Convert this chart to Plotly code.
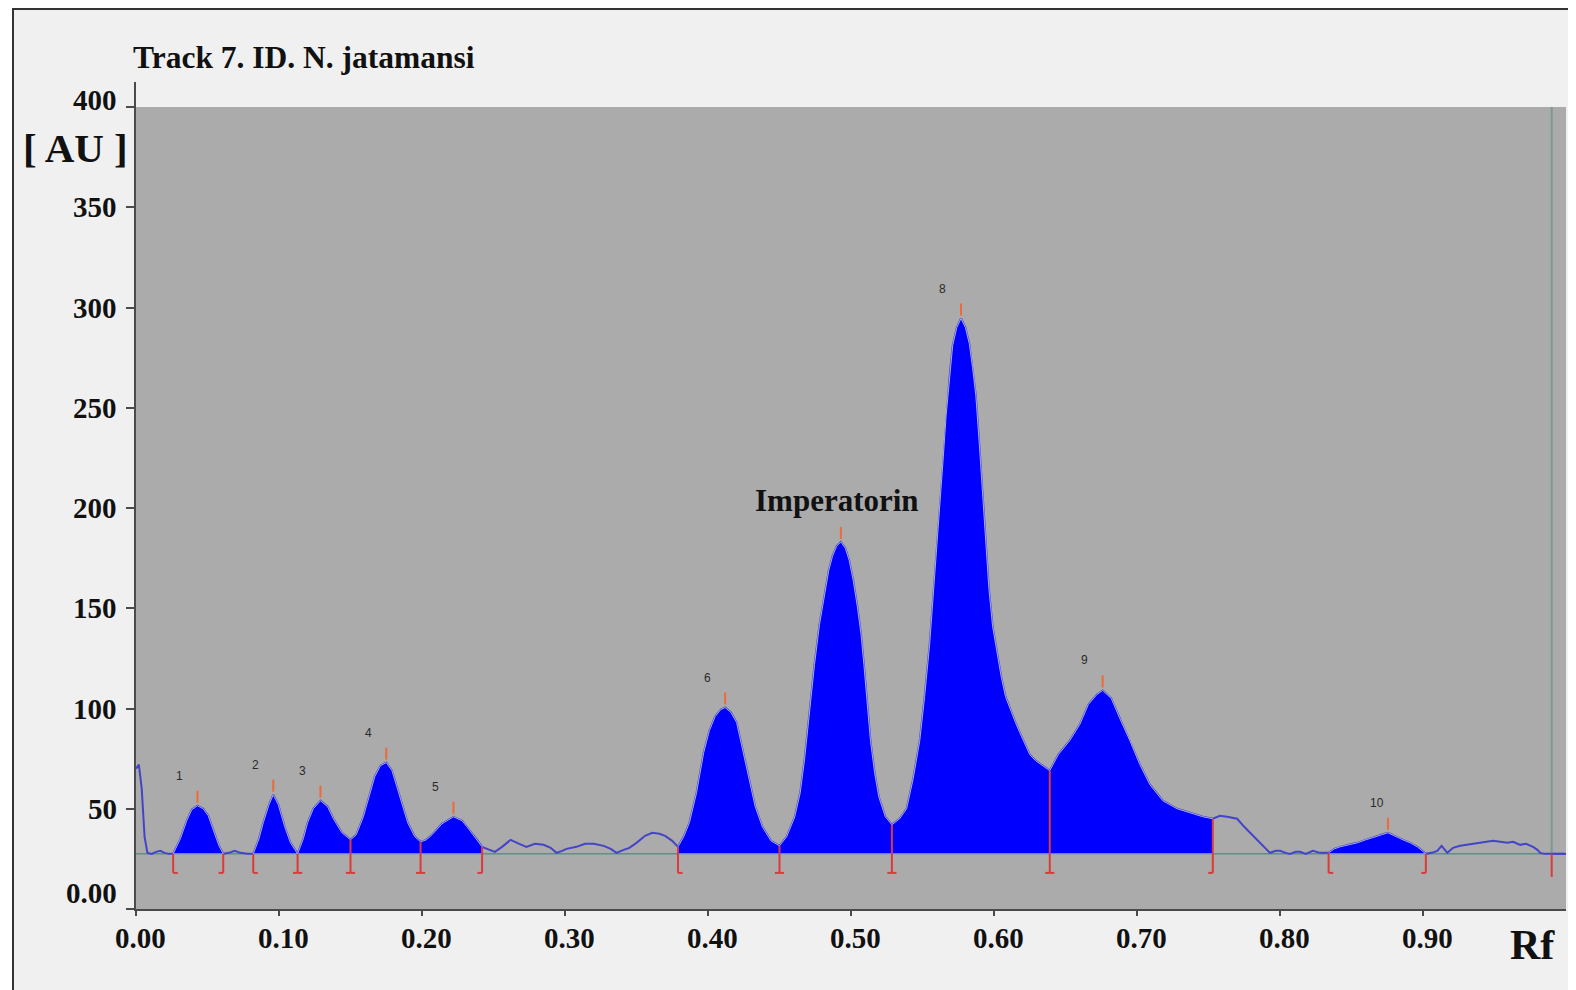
import numpy as np
import plotly.graph_objects as go

# ---------------- data ----------------
rf = [0.000, 0.002, 0.004, 0.006, 0.008, 0.011, 0.014, 0.017, 0.020, 0.023,
      0.026, 0.031, 0.0355, 0.039, 0.043, 0.047, 0.0505, 0.055, 0.058, 0.061,
      0.065, 0.069, 0.073, 0.078, 0.082, 0.086, 0.089, 0.093, 0.096, 0.0995,
      0.104, 0.108, 0.113, 0.117, 0.120, 0.124, 0.129, 0.134, 0.138, 0.144,
      0.150, 0.154, 0.159, 0.163, 0.167, 0.171, 0.175, 0.179, 0.182, 0.186,
      0.190, 0.195, 0.199, 0.203, 0.207, 0.214, 0.222, 0.228, 0.232, 0.238,
      0.242, 0.246, 0.251, 0.256, 0.262, 0.268, 0.273, 0.279, 0.285, 0.290,
      0.294, 0.298, 0.301, 0.308, 0.314, 0.320, 0.327, 0.332, 0.336, 0.341,
      0.345, 0.350, 0.356, 0.361, 0.366, 0.370, 0.375, 0.379, 0.383, 0.387,
      0.392, 0.397, 0.401, 0.405, 0.409, 0.412, 0.416, 0.420, 0.424, 0.429,
      0.433, 0.438, 0.444, 0.450, 0.455, 0.4607, 0.4645, 0.4676, 0.471, 0.4745,
      0.478, 0.4814, 0.4845, 0.4871, 0.490, 0.4929, 0.496, 0.4987, 0.5015, 0.5044,
      0.507, 0.509, 0.5113, 0.5136, 0.5165, 0.5194, 0.524, 0.5286, 0.534, 0.5389,
      0.5435, 0.5481, 0.5515, 0.555, 0.5585, 0.562, 0.5645, 0.5665, 0.569, 0.5711,
      0.574, 0.5769, 0.580, 0.5827, 0.585, 0.5873, 0.5896, 0.5918, 0.594, 0.5964,
      0.599, 0.6022, 0.605, 0.608, 0.611, 0.615, 0.618, 0.622, 0.625, 0.629,
      0.633, 0.639, 0.645, 0.653, 0.660, 0.666, 0.672, 0.676, 0.682, 0.688,
      0.695, 0.702, 0.709, 0.718, 0.728, 0.737, 0.746, 0.753, 0.758, 0.763,
      0.767, 0.770, 0.775, 0.779, 0.786, 0.793, 0.797, 0.800, 0.804, 0.807,
      0.811, 0.814, 0.818, 0.823, 0.828, 0.834, 0.838, 0.842, 0.848, 0.854,
      0.860, 0.865, 0.871, 0.8755, 0.881, 0.886, 0.891, 0.896, 0.902, 0.906,
      0.910, 0.913, 0.917, 0.921, 0.926, 0.931, 0.936, 0.940, 0.945, 0.949,
      0.954, 0.959, 0.963, 0.968, 0.972, 0.977, 0.980, 0.982, 0.985, 0.999]

au = [70, 72, 60, 36, 28, 27.5, 28.5, 29, 28, 27.5,
      27.5, 35, 44, 49.5, 51.5, 50, 46.5, 38, 31.5, 27.5,
      28, 29, 28, 27.5, 27.5, 35, 43, 52, 57, 52,
      41, 33, 27.5, 35, 43, 50, 54, 51, 45, 38,
      34.5, 37, 46, 56, 66, 71.5, 73, 69, 62, 52,
      43, 36, 33.5, 34.5, 37, 42.5, 46, 44, 40.5, 35,
      31, 30, 28.5, 31, 34.5, 32.5, 31, 32.5, 32, 30.5,
      28, 29, 30, 31, 32.5, 32.5, 31.5, 30, 28, 29.5,
      30.5, 33, 36.5, 38, 37.5, 36.5, 34, 31, 36, 43,
      58, 78, 89, 96, 99.5, 100.5, 98, 93, 80, 64,
      51, 41, 34, 31.5, 36, 46, 58, 75, 98, 122,
      142, 157, 169, 176, 181, 183, 180, 174, 164, 151,
      137, 122, 103, 84, 68, 56, 46, 42, 45, 50,
      65, 84, 106, 132, 165, 199, 225, 246, 266, 281,
      290, 294.5, 290, 282, 270, 256, 233, 208, 184, 160,
      141, 127, 116, 106, 100, 93, 88, 82, 77, 74,
      72, 69, 77, 84, 92, 102, 107, 109, 105, 95,
      84, 72, 62, 54, 50, 48, 46, 45, 46.5, 46,
      45.5, 45, 41, 38, 33, 28, 29, 29, 28, 27.5,
      28.5, 28.5, 27.5, 29, 28, 28, 30, 31, 32, 33,
      34.5, 35.5, 37, 38, 36, 34.5, 33, 31, 27.5, 28,
      29, 31.5, 28, 30.5, 31.5, 32, 32.5, 33, 33.5, 34,
      33.5, 33, 33.5, 32, 32.5, 31, 29.5, 28, 27.5, 27.5]

baseline_au = 27.5
scan_end_rf = 0.990

peak_start = [0.026, 0.082, 0.113, 0.150, 0.199, 0.379, 0.450, 0.5286, 0.639, 0.834]
peak_end = [0.061, 0.113, 0.150, 0.199, 0.242, 0.450, 0.5286, 0.639, 0.753, 0.902]
peak_max_rf = [0.043, 0.096, 0.129, 0.175, 0.222, 0.412, 0.4929, 0.5769, 0.676, 0.8755]
peak_labels = ["1", "2", "3", "4", "5", "6", "", "8", "9", "10"]

compound_name = "Imperatorin"
compound_peak = 6  # index of the Imperatorin peak

x_ticks = [0.0, 0.1, 0.2, 0.3, 0.4, 0.5, 0.6, 0.7, 0.8, 0.9]
x_tick_labels = ["0.00", "0.10", "0.20", "0.30", "0.40", "0.50", "0.60", "0.70", "0.80", "0.90"]
y_ticks = [0, 50, 100, 150, 200, 250, 300, 350, 400]
y_tick_labels = ["0.00", "50", "100", "150", "200", "250", "300", "350", "400"]

title_text = "Track 7. ID. N. jatamansi"
y_unit = "[ AU ]"
x_unit = "Rf"

# ---------------- layout geometry ----------------
# the page body has an 8px margin, so the figure is drawn 8px in from the window corner
O = 8
W, H = 1576 - O, 990 - O
L, R, T, B = 136 - O, 10, 107 - O, 81
PW, PH = W - L - R, H - T - B


def px_x(px):
    """window pixel x -> paper coordinate"""
    return (px - O - L) / PW


def px_y(py):
    """window pixel y -> paper coordinate"""
    return (H - B - (py - O)) / PH


rf_a = np.array(rf)
au_a = np.array(au)
peak_h = np.interp(peak_max_rf, rf_a, au_a)

SERIF = "Liberation Serif, Times New Roman, serif"
FILL_BLUE = "#0000ff"
LINE_BLUE = "#4444c8"
RED = "#dc3a3a"
ORANGE = "#ee6a3a"
AXIS = "#4a4a4a"

fig = go.Figure()

# baseline
fig.add_trace(go.Scatter(x=[0, scan_end_rf], y=[baseline_au, baseline_au], mode="lines",
                         line=dict(color="#5f8f86", width=1.5), hoverinfo="skip"))
fig.add_trace(go.Scatter(x=[scan_end_rf, 1.0], y=[baseline_au, baseline_au], mode="lines",
                         line=dict(color=LINE_BLUE, width=2), hoverinfo="skip"))
# scan end line
fig.add_trace(go.Scatter(x=[scan_end_rf, scan_end_rf], y=[baseline_au, 400], mode="lines",
                         line=dict(color="#7a9a90", width=2), hoverinfo="skip"))

# full trace line
fig.add_trace(go.Scatter(x=rf, y=au, mode="lines", line=dict(color=LINE_BLUE, width=2),
                         hoverinfo="skip"))

# filled peaks
for s, e in zip(peak_start, peak_end):
    m = (rf_a >= s - 1e-9) & (rf_a <= e + 1e-9)
    xs = list(rf_a[m]) + [e, s]
    ys = list(au_a[m]) + [baseline_au, baseline_au]
    fig.add_trace(go.Scatter(x=xs, y=ys, mode="lines", fill="toself", fillcolor=FILL_BLUE,
                             line=dict(color="#a9a9ee", width=1), hoverinfo="skip"))

# red boundary markers
foot = 0.0032
bottom = 18
mx, my = [], []
for b in sorted(set(peak_start) | set(peak_end)):
    top = max(float(np.interp(b, rf_a, au_a)), baseline_au)
    mx += [b, b, None]
    my += [top, bottom, None]
for s in peak_start:
    mx += [s, s + foot, None]
    my += [bottom, bottom, None]
for e in peak_end:
    mx += [e - foot, e, None]
    my += [bottom, bottom, None]
mx += [scan_end_rf, scan_end_rf, None]
my += [baseline_au, bottom - 2, None]
fig.add_trace(go.Scatter(x=mx, y=my, mode="lines", line=dict(color=RED, width=2),
                         hoverinfo="skip"))

# peak top ticks
tx, ty = [], []
for p, h in zip(peak_max_rf, peak_h):
    tx += [p, p, None]
    ty += [h + 1.5, h + 7.5, None]
fig.add_trace(go.Scatter(x=tx, y=ty, mode="lines", line=dict(color=ORANGE, width=2),
                         hoverinfo="skip"))

annotations = []
# peak numbers
for p, h, lab in zip(peak_max_rf, peak_h, peak_labels):
    if not lab:
        continue
    annotations.append(dict(x=p, y=h, xref="x", yref="y", text=lab, showarrow=False,
                            xanchor="center", yanchor="middle",
                            xshift=-18 if len(lab) == 1 else -11, yshift=30,
                            font=dict(family="Liberation Sans, Arial, sans-serif", size=12,
                                      color="#2a2a2a")))
# compound label
annotations.append(dict(x=peak_max_rf[compound_peak] - 0.003, y=peak_h[compound_peak], xref="x",
                        yref="y", text=compound_name, showarrow=False, xanchor="center",
                        yanchor="middle", yshift=42,
                        font=dict(family=SERIF, size=31, color="#111111", weight="bold")))
# x tick labels
for v, lab in zip(x_ticks, x_tick_labels):
    annotations.append(dict(x=v, y=0, xref="x", yref="paper", text=lab, showarrow=False,
                            xanchor="center", yanchor="middle", xshift=4, yshift=-29,
                            font=dict(family=SERIF, size=29, color="#111111", weight="bold")))
# y tick labels
for v, lab in zip(y_ticks, y_tick_labels):
    ys = 16 if v == 0 else (7 if v == 400 else 0)
    annotations.append(dict(x=0, y=v, xref="paper", yref="y", text=lab, showarrow=False,
                            xanchor="right", yanchor="middle", xshift=-17, yshift=ys,
                            font=dict(family=SERIF, size=29, color="#111111", weight="bold")))
# titles
annotations.append(dict(x=px_x(131), y=px_y(57), xref="paper", yref="paper", text=title_text,
                        showarrow=False, xanchor="left", yanchor="middle",
                        font=dict(family=SERIF, size=31.5, color="#111111", weight="bold")))
annotations.append(dict(x=px_x(75), y=px_y(148), xref="paper", yref="paper", text=y_unit,
                        showarrow=False, xanchor="center", yanchor="middle",
                        font=dict(family=SERIF, size=41, color="#111111", weight="bold")))
annotations.append(dict(x=px_x(1532), y=px_y(945), xref="paper", yref="paper", text=x_unit,
                        showarrow=False, xanchor="center", yanchor="middle",
                        font=dict(family=SERIF, size=42, color="#111111", weight="bold")))

shapes = [
    # white margin outside the frame
    dict(type="rect", xref="paper", yref="paper", x0=px_x(0), x1=px_x(12), y0=px_y(1000), y1=px_y(0),
         fillcolor="white", line=dict(width=0), layer="above"),
    # frame lines
    dict(type="line", xref="paper", yref="paper", x0=px_x(13), x1=px_x(13), y0=px_y(9), y1=px_y(1000),
         line=dict(color="#333333", width=2), layer="above"),
    dict(type="line", xref="paper", yref="paper", x0=px_x(12), x1=px_x(1600), y0=px_y(9), y1=px_y(9),
         line=dict(color="#333333", width=2), layer="above"),
    # y axis line extending above the plot area
    dict(type="line", xref="paper", yref="paper", x0=px_x(135), x1=px_x(135), y0=1, y1=px_y(82),
         line=dict(color=AXIS, width=2), layer="above"),
]

fig.update_layout(
    width=W, height=H,
    margin=dict(l=L, r=R, t=T, b=B, pad=0),
    paper_bgcolor="#f0f0f0",
    plot_bgcolor="#ababab",
    showlegend=False,
    annotations=annotations,
    shapes=shapes,
    xaxis=dict(range=[0, 1.0], showgrid=False, zeroline=False, showline=True,
               linecolor=AXIS, linewidth=2, ticks="outside", ticklen=5, tickwidth=1.5,
               tickcolor=AXIS, tickvals=x_ticks, showticklabels=False, fixedrange=True),
    yaxis=dict(range=[0, 400], showgrid=False, zeroline=False, showline=True,
               linecolor=AXIS, linewidth=2, ticks="outside", ticklen=8, tickwidth=1.5,
               tickcolor=AXIS, tickvals=y_ticks, showticklabels=False, fixedrange=True),
)

fig.write_html("out.html")
